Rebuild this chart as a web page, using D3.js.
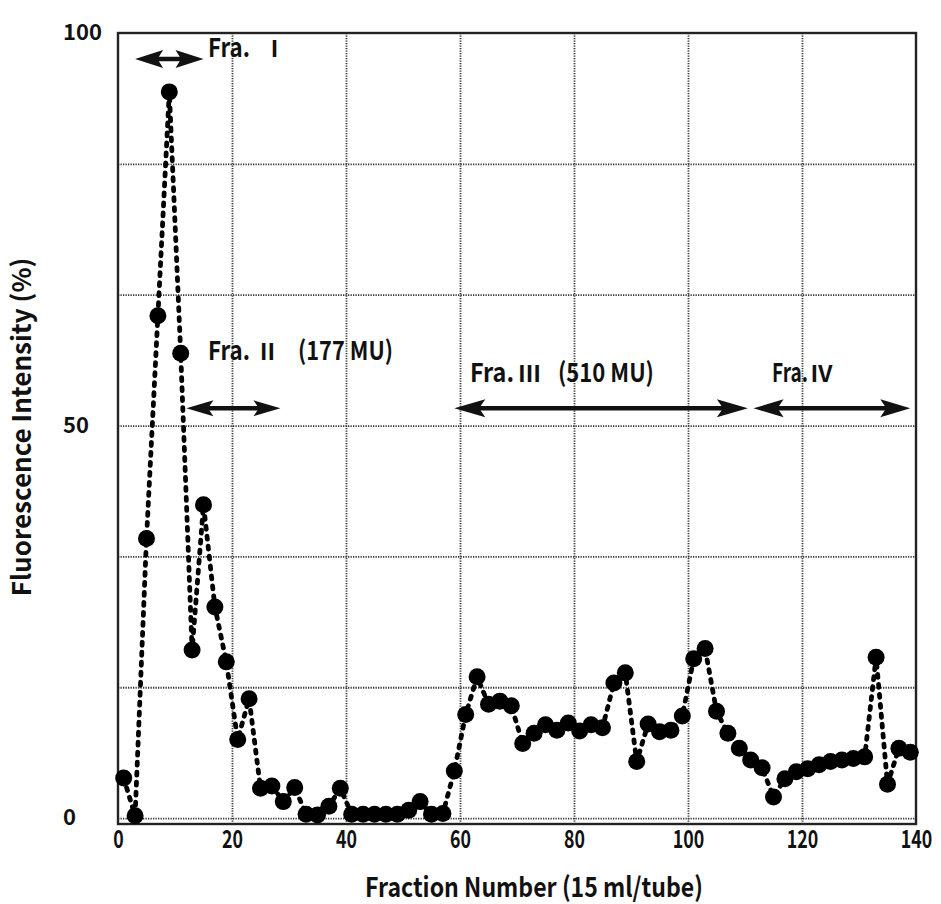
<!DOCTYPE html>
<html>
<head>
<meta charset="utf-8">
<script src="https://cdn.jsdelivr.net/npm/d3@7"></script>
<style>
  body { margin: 0; background: #fff; }
  text { font-family: "Noto Sans CJK JP", "Noto Sans", sans-serif; fill: #111; }
</style>
</head>
<body>
<svg id="chart" width="941" height="904"></svg>
<script>
// Fraction numbers (tube index) and relative fluorescence intensity (%)
const fractions = [
  1, 3, 5, 7, 9, 11, 13, 15, 17, 19,
  21, 23, 25, 27, 29, 31, 33, 35, 37, 39,
  41, 43, 45, 47, 49, 51, 53, 55, 57, 59,
  61, 63, 65, 67, 69, 71, 73, 75, 77, 79,
  81, 83, 85, 87, 89, 91, 93, 95, 97, 99,
  101, 103, 105, 107, 109, 111, 113, 115, 117, 119,
  121, 123, 125, 127, 129, 131, 133, 135, 137, 139
];
const intensity = [
  5.1, 0.3, 35.6, 64.0, 92.5, 59.2, 21.4, 39.9, 26.9, 19.9,
  10.0, 15.2, 3.8, 4.1, 2.1, 3.9, 0.5, 0.4, 1.5, 3.8,
  0.5, 0.5, 0.5, 0.5, 0.5, 1.0, 2.1, 0.5, 0.6, 6.0,
  13.2, 18.0, 14.5, 14.9, 14.3, 9.5, 10.8, 11.9, 11.2, 12.1,
  11.1, 11.9, 11.5, 17.2, 18.5, 7.2, 12.0, 11.0, 11.2, 13.0,
  20.3, 21.6, 13.6, 10.8, 8.9, 7.4, 6.4, 2.7, 5.0, 5.9,
  6.3, 6.8, 7.2, 7.4, 7.6, 7.8, 20.5, 4.3, 8.9, 8.4
];

const xTickValues = [0, 20, 40, 60, 80, 100, 120, 140];
const yTickValues = [0, 50, 100];

// Pooled fractions: label prefix, Roman numeral, activity note, tube range
const poolPrefix = ["Fra.", "Fra.", "Fra.", "Fra."];
const poolNumerals = ["Ⅰ", "Ⅱ", "Ⅲ", "Ⅳ"];
const poolActivity = ["", "(177 MU)", "(510 MU)", ""];
const poolRanges = [[3, 15], [12, 28.5], [59, 110.5], [111.5, 139]];

const svg = d3.select("#chart");
svg.append("rect").attr("width", 941).attr("height", 904).attr("fill", "#fff");

const x = d3.scaleLinear().domain([0, 140]).range([118, 916]);
const y = d3.scaleLinear().domain([-0.75, 100]).range([824, 33]);
const plotTop = y(100), plotBottom = y(-0.75), plotLeft = x(0), plotRight = x(140);

// Narrow a text horizontally to a target width (gothic half-width look)
function squeeze(sel, width, place) {
  sel.each(function (d) {
    const w = this.getComputedTextLength();
    const tw = typeof width === "function" ? width(d) : width;
    const s = w > 0 ? Math.min(1, tw / w) : 1;
    d3.select(this).attr("transform", `${place || ""} scale(${s},1)`);
  });
}

// Dotted grid: vertical every 20 tubes, horizontal every sixth of the scale
const gridStyle = g => g.selectAll("line")
  .attr("stroke", "#3a3a3a").attr("stroke-width", 1.8).attr("stroke-dasharray", "1.3,1.2");

svg.append("g")
  .attr("transform", `translate(0,${plotTop})`)
  .call(d3.axisBottom(x).tickValues(xTickValues.slice(1, -1)).tickSize(plotBottom - plotTop).tickFormat(""))
  .call(g => g.select(".domain").remove())
  .call(gridStyle);

svg.append("g")
  .attr("transform", `translate(${plotLeft},0)`)
  .call(d3.axisRight(y).tickValues(d3.range(0, 99, 100 / 6)).tickSize(plotRight - plotLeft).tickFormat(""))
  .call(g => g.select(".domain").remove())
  .call(gridStyle);

// Plot frame
svg.append("rect")
  .attr("x", plotLeft).attr("y", plotTop)
  .attr("width", plotRight - plotLeft).attr("height", plotBottom - plotTop)
  .attr("fill", "none").attr("stroke", "#222").attr("stroke-width", 2.4);

// Axis tick labels (narrow gothic figures)
const xAxis = svg.append("g")
  .attr("transform", `translate(0,${plotBottom})`)
  .call(d3.axisBottom(x).tickValues(xTickValues).tickSize(0).tickPadding(0))
  .call(g => g.select(".domain").remove());
xAxis.selectAll("text")
  .attr("font-family", "'Noto Sans CJK JP', sans-serif")
  .attr("font-size", 25)
  .attr("font-weight", "bold")
  .attr("fill", "#111")
  .attr("y", 0).attr("dy", null)
  .call(squeeze, d => String(d).length * 10.5, "translate(0,24)");

svg.append("g").selectAll("text")
  .data(yTickValues)
  .join("text")
  .attr("x", 63)
  .attr("y", d => y(d) + 7)
  .attr("font-family", "'Liberation Sans', Arial, sans-serif")
  .attr("font-weight", "bold")
  .attr("font-size", 22)
  .attr("fill", "#111")
  .text(d => d);

// Axis titles
svg.append("text")
  .attr("text-anchor", "middle")
  .attr("font-size", 27)
  .attr("font-weight", "bold")
  .text("Fraction Number (15 ml/tube)")
  .call(squeeze, 338, "translate(534,897)");

svg.append("text")
  .attr("text-anchor", "middle")
  .attr("font-size", 26)
  .attr("font-weight", "bold")
  .text("Fluorescence Intensity (%)")
  .call(squeeze, 340, "translate(31,427) rotate(-90)");

// Elution profile: dotted connecting line and filled markers
const line = d3.line().x((d, i) => x(fractions[i])).y(d => y(d));
svg.append("path")
  .datum(intensity)
  .attr("d", line)
  .attr("fill", "none")
  .attr("stroke", "#000")
  .attr("stroke-width", 4.8)
  .attr("stroke-linecap", "round")
  .attr("stroke-dasharray", "3,7");

svg.append("g").selectAll("circle")
  .data(intensity)
  .join("circle")
  .attr("cx", (d, i) => x(fractions[i]))
  .attr("cy", d => y(d))
  .attr("r", 8.5)
  .attr("fill", "#000");

// Pool annotations: double-headed arrows and labels
const arrowLevel = [96.7, 52.2, 52.2, 52.2];
const headLen = [28, 27, 31, 30];
const headHalf = [9, 8, 9, 9];
const labelBase = [97.0, 58.3, 55.6, 55.6];
// Left edge of prefix, numeral and note of each label (widths for the gothic parts)
const labelParts = [
  [[208, 42], [263], null],
  [[208, 42], [256], [298, 95]],
  [[470, 44], [518], [558, 96]],
  [[772, 36], [810], null]
];

const ann = svg.append("g");
poolRanges.forEach((r, i) => {
  const x1 = x(r[0]), x2 = x(r[1]), yy = y(arrowLevel[i]);
  const L = headLen[i], H = headHalf[i];
  ann.append("line")
    .attr("x1", x1 + L * 0.6).attr("x2", x2 - L * 0.6)
    .attr("y1", yy).attr("y2", yy)
    .attr("stroke", "#111").attr("stroke-width", 4.5);
  ann.append("path")
    .attr("d", `M${x1},${yy} L${x1 + L},${yy - H} L${x1 + L * 0.8},${yy} L${x1 + L},${yy + H} Z`)
    .attr("fill", "#111");
  ann.append("path")
    .attr("d", `M${x2},${yy} L${x2 - L},${yy - H} L${x2 - L * 0.8},${yy} L${x2 - L},${yy + H} Z`)
    .attr("fill", "#111");

  const base = y(labelBase[i]);
  const [pre, num, note] = labelParts[i];
  ann.append("text")
    .attr("font-size", 26).attr("font-weight", "bold")
    .text(poolPrefix[i])
    .call(squeeze, pre[1], `translate(${pre[0]},${base})`);
  ann.append("text")
    .attr("x", num[0]).attr("y", base)
    .attr("font-family", "'DejaVu Serif', 'Liberation Serif', serif")
    .attr("font-size", 23).attr("font-weight", "bold")
    .text(poolNumerals[i]);
  if (note) {
    ann.append("text")
      .attr("font-size", 26).attr("font-weight", "bold")
      .text(poolActivity[i])
      .call(squeeze, note[1], `translate(${note[0]},${base})`);
  }
});
</script>
</body>
</html>
